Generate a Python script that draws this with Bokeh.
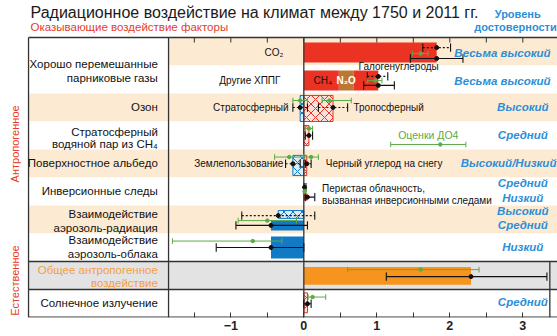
from bokeh.plotting import figure
from bokeh.models import Range1d, FixedTicker
from bokeh.embed import file_html
from bokeh.resources import INLINE
from bokeh.core.properties import value
import math

# ---------------- DATA ----------------
row_labels = ["Хорошо перемешанные", "парниковые газы", "Озон", "Стратосферный", "водяной пар из CH\u2084",
              "Поверхностное альбедо", "Инверсионные следы", "Взаимодействие", "аэрозоль-радиация",
              "Взаимодействие", "аэрозоль-облака", "Общее антропогенное", "воздействие", "Солнечное излучение"]

# solid (ERF) bars, stacked within a row
solid_names = ["CO\u2082", "CH\u2084", "N\u2082O", "Галогенуглероды", "Перистая облачность",
               "Аэрозоль-радиация", "Аэрозоль-облака", "Общее антропогенное"]
solid_rows = [0, 1, 1, 1, 5, 6, 7, 8]
solid_values = [1.82, 0.48, 0.20, 0.34, 0.05, -0.45, -0.45, 2.29]

# hatched (RF) bars
rf_names = ["Стратосферный O3", "Тропосферный O3", "Водяной пар", "Землепользование",
            "Черный углерод на снегу", "Аэрозоль-радиация RF", "Солнечное излучение"]
rf_rows = [2, 2, 3, 4, 4, 6, 9]
rf_values = [-0.05, 0.40, 0.07, -0.15, 0.04, -0.35, 0.05]

# RF uncertainty (dotted)
rfu_rows = [0, 1, 2, 2, 3, 4, 4, 5, 6]
rfu_best = [1.82, 1.02, -0.05, 0.40, 0.07, -0.15, 0.04, 0.01, -0.35]
rfu_lo = [1.63, 0.87, -0.15, 0.20, 0.02, -0.25, 0.02, 0.005, -0.85]
rfu_hi = [2.01, 1.15, 0.05, 0.60, 0.12, -0.05, 0.10, 0.03, 0.15]

# ERF uncertainty (solid)
erfu_rows = [0, 1, 5, 6, 7, 8, 9]
erfu_best = [1.82, 1.02, 0.05, -0.45, -0.45, 2.29, 0.05]
erfu_lo = [1.46, 0.82, 0.02, -0.93, -1.20, 1.13, 0.00]
erfu_hi = [2.18, 1.24, 0.15, 0.05, 0.00, 3.33, 0.10]

# AR4 estimates (green)
ar4_rows = [0, 1, 2, 2, 3, 4, 4, 5, 6, 7, 8, 9]
ar4_best = [1.60, 0.98, -0.05, 0.35, 0.07, -0.20, 0.10, 0.01, -0.50, -0.70, 1.60, 0.12]
ar4_lo = [1.49, 0.87, -0.15, 0.25, 0.02, -0.40, 0.00, 0.003, -0.90, -1.80, 0.60, 0.06]
ar4_hi = [1.70, 1.07, 0.05, 0.65, 0.12, 0.00, 0.20, 0.03, -0.10, -0.30, 2.40, 0.30]

# legend sample for AR4
ar4_legend = ("Оценки ДО4", 1.87, 1.19, 2.22)

confidence = ["Весьма высокий", "Весьма высокий", "Высокий", "Средний", "Высокий/Низкий",
              "Средний", "Низкий", "Высокий", "Средний", "Низкий", "Средний"]

major_ticks = [-1, 0, 1, 2, 3]
minor_ticks = [-1.5, -0.5, 0.5, 1.5, 2.5]

title = "Радиационное воздействие на климат между 1750 и 2011 гг."
subtitle = "Оказывающие воздействие факторы"
conf_header = ["Уровень", "достоверности"]
side_labels = ["Антропогенное", "Естественное"]

# ---------------- STYLE / LAYOUT ----------------
RED = "#EC3323"
BLUE = "#1279C4"
ORANGE = "#F7941E"
BROWN = "#BC7733"
BEIGE = "#FCEBD2"
GRAY = "#E3E3E3"
GREEN = "#5BAA46"
CONF = "#2D8ED8"
TXTRED = "#E63C2A"
DARK = "#333333"
FONT = value("Liberation Sans")

XL, XR = -4.155, 3.475   # whole canvas width
X0 = -3.771              # left border of the table
XCOL = -1.853            # boundary between label column and plot
YT = -1.3214             # top of canvas

p = figure(width=557, height=336, output_backend="svg", toolbar_location=None,
           x_range=Range1d(XL, XR), y_range=Range1d(10, YT), y_axis_location=None,
           min_border_left=0, min_border_right=0, min_border_top=0, min_border_bottom=19,
           background_fill_color="white", border_fill_color="white")
p.grid.visible = False
p.outline_line_color = None

# backgrounds
plot_bg = [BEIGE, "white", BEIGE, "white", BEIGE, "white", BEIGE, "white", GRAY, "white"]
col_bg = ["white", "white", BEIGE, "white", BEIGE, "white", BEIGE, "white", GRAY, "white"]
rows = list(range(10))
p.quad(left=[XCOL] * 10, right=[XR] * 10, top=rows, bottom=[r + 1 for r in rows],
       fill_color=plot_bg, line_color=None)
p.quad(left=[X0] * 10, right=[XCOL] * 10, top=rows, bottom=[r + 1 for r in rows],
       fill_color=col_bg, line_color=None)

# solid bars
Y_SOLID = {0: (0.18, 0.89), 1: (0.18, 0.89), 5: (0.57, 0.82), 6: (0.54, 0.89),
           7: (0.11, 0.89), 8: (0.20, 0.83)}
acc = {}
sl, sr, st, sb, sc = [], [], [], [], []
for name, r, v in zip(solid_names, solid_rows, solid_values):
    start = acc.get(r, 0.0)
    end = start + v
    acc[r] = end
    sl.append(min(start, end)); sr.append(max(start, end))
    st.append(r + Y_SOLID[r][0]); sb.append(r + Y_SOLID[r][1])
    if name.startswith("N"):
        sc.append(BROWN)
    elif v < 0:
        sc.append(BLUE)
    elif r == 8:
        sc.append(ORANGE)
    elif r == 5:
        sc.append("#D8301E")
    else:
        sc.append(RED)
p.quad(left=sl, right=sr, top=st, bottom=sb, fill_color=sc, line_color=None)

# hatched bars
Y_RF = {2: (0.07, 1.0), 3: (0.14, 0.86), 4: (0.21, 0.93), 6: (0.18, 0.46), 9: (0.12, 0.83)}
for r, v in zip(rf_rows, rf_values):
    col = BLUE if v < 0 else RED
    fill = "#DDEBF7" if v < 0 else "#FCE2DB"
    p.quad(left=[min(0, v)], right=[max(0, v)], top=[r + Y_RF[r][0]], bottom=[r + Y_RF[r][1]],
           fill_color=fill, line_color=col, line_width=1, hatch_pattern="diagonal_cross",
           hatch_color=col, hatch_scale=9, hatch_weight=1)

# table frame, zero line, column line, separators
p.segment(x0=[0, XCOL, X0], y0=[0, 0, 0], x1=[0, XCOL, X0], y1=[10, 10, 10],
          line_color=DARK, line_width=1.3)
p.segment(x0=[X0, X0, X0, X0], y0=[0, 8, 9, 9.985], x1=[XR, XR, XR, XR], y1=[0, 8, 9, 9.985],
          line_color=DARK, line_width=1.3)
p.segment(x0=[3.37], y0=[8], x1=[3.37], y1=[10], line_color=DARK, line_width=1.3)

# top ticks (same ticks as bottom axis)
tk = major_ticks + minor_ticks
p.segment(x0=tk, y0=[0] * len(tk), x1=tk, y1=[0.18] * len(tk), line_color=DARK, line_width=1)


def errbars(rws, best, lo, hi, yoff, color, dash, whisk, dot, lw):
    ys = [r + yoff[r] for r in rws]
    p.segment(x0=lo, y0=ys, x1=hi, y1=ys, line_color=color, line_dash=dash, line_width=lw)
    p.segment(x0=lo, y0=[y - whisk for y in ys], x1=lo, y1=[y + whisk for y in ys],
              line_color=color, line_width=lw)
    p.segment(x0=hi, y0=[y - whisk for y in ys], x1=hi, y1=[y + whisk for y in ys],
              line_color=color, line_width=lw)
    p.scatter(x=best, y=ys, size=dot, fill_color=color, line_color=color)


Y_AR4 = {0: 0.57, 1: 0.54, 2: 0.25, 3: 0.25, 4: 0.27, 5: 0.5, 6: 0.54, 7: 0.27, 8: 0.29, 9: 0.27}
Y_RFU = {0: 0.36, 1: 0.39, 2: 0.5, 3: 0.5, 4: 0.51, 5: 0.35, 6: 0.36}
Y_ERFU = {0: 0.75, 1: 0.71, 5: 0.7, 6: 0.71, 7: 0.5, 8: 0.54, 9: 0.51}

errbars(rfu_rows, rfu_best, rfu_lo, rfu_hi, Y_RFU, "#111111", "2 2", 0.15, 4, 1.1)
errbars(erfu_rows, erfu_best, erfu_lo, erfu_hi, Y_ERFU, "#111111", "solid", 0.15, 4, 1.1)
errbars(ar4_rows, ar4_best, ar4_lo, ar4_hi, Y_AR4, GREEN, "solid", 0.1, 3.5, 1.0)
# AR4 legend sample
errbars([3], [ar4_legend[1]], [ar4_legend[2]], [ar4_legend[3]], {3: 0.82}, GREEN, "solid", 0.1, 3.5, 1.0)
p.text(x=[(ar4_legend[2] + ar4_legend[3]) / 2], y=[3.5], text=[ar4_legend[0]], text_font=FONT,
       text_font_size=value("10.5px"), text_color=GREEN, text_align="center", text_baseline="middle")

# label column text
lab_y = [0.93, 1.43, 2.5, 3.37, 3.80, 4.5, 5.5, 6.29, 6.79, 7.25, 7.75, 8.29, 8.77, 9.5]
lab_col = ["#111111"] * 11 + ["#F4A043", "#F4A043", "#111111"]
p.text(x=[-2.0] * len(row_labels), y=lab_y, text=row_labels, text_font=FONT,
       text_font_size=value("11.5px"), text_color=lab_col, text_align="right", text_baseline="middle")

# in-plot annotations
ann_txt = ["CO\u2082", "Другие ХППГ", "Стратосферный", "Тропосферный", "Землепользование",
           "Черный углерод на снегу", "Перистая облачность,", "вызванная инверсионными следами"]
ann_x = [-0.28, -0.32, -0.21, 0.68, -0.28, 0.30, 0.25, 0.25]
ann_y = [0.54, 1.54, 2.5, 2.5, 4.5, 4.5, 5.4, 5.82]
ann_al = ["right", "right", "right", "left", "right", "left", "left", "left"]
p.text(x=ann_x, y=ann_y, text=ann_txt, text_font=FONT, text_font_size=value("10px"),
       text_color="#111111", text_align=ann_al, text_baseline="middle")
p.text(x=[0.75], y=[1.05], text=[solid_names[3]], text_font=FONT, text_font_size=value("10px"),
       text_color="#111111", text_align="left", text_baseline="middle")
p.text(x=[0.26], y=[1.54], text=[solid_names[1]], text_font=FONT, text_font_size=value("10px"),
       text_color="#111111", text_align="center", text_baseline="middle")
p.text(x=[0.58], y=[1.54], text=[solid_names[2]], text_font=FONT, text_font_size=value("10px"),
       text_color="white", text_font_style="bold", text_align="center", text_baseline="middle")

# confidence
conf_x = [3.38, 3.38, 3.0, 3.0, 3.46, 3.0, 3.0, 3.0, 3.0, 3.0, 3.0]
conf_y = [0.54, 1.54, 2.5, 3.5, 4.5, 5.21, 5.75, 6.21, 6.71, 7.5, 9.46]
conf_al = ["right", "right", "center", "center", "right", "center", "center", "center", "center", "center", "center"]
p.text(x=conf_x, y=conf_y, text=confidence, text_font=FONT, text_font_size=value("11.5px"),
       text_font_style="bold italic", text_color=CONF, text_align=conf_al, text_baseline="middle")

# titles and header
p.text(x=[-3.744], y=[-0.89], text=[title], text_font=FONT, text_font_size=value("16px"),
       text_color="#1a1a1a", text_align="left", text_baseline="middle")
p.text(x=[-3.744], y=[-0.36], text=[subtitle], text_font=FONT, text_font_size=value("11.5px"),
       text_color=TXTRED, text_align="left", text_baseline="middle")
p.text(x=[2.93, 3.465], y=[-0.84, -0.36], text=conf_header, text_font=FONT,
       text_font_size=value("11px"), text_font_style="bold", text_color=CONF,
       text_align=["center", "right"], text_baseline="middle")
p.text(x=[-3.963, -3.963], y=[3.8, 8.68], text=side_labels, text_font=FONT,
       text_font_size=value("11px"), text_color=TXTRED, angle=math.pi / 2,
       text_align="center", text_baseline="middle")

# bottom axis
ticker = FixedTicker(ticks=major_ticks, minor_ticks=minor_ticks)
ax = p.xaxis[0]
ax.ticker = ticker
ax.major_tick_in = 5
ax.major_tick_out = 0
ax.minor_tick_in = 5
ax.minor_tick_out = 0
ax.axis_line_color = None
ax.major_tick_line_color = DARK
ax.minor_tick_line_color = DARK
ax.major_label_text_font = "Liberation Sans"
ax.major_label_text_font_size = "12.5px"
ax.major_label_text_font_style = "bold"
ax.major_label_text_color = "#222222"
ax.major_label_standoff = 3

open("out.html", "w").write(file_html(p, INLINE))
